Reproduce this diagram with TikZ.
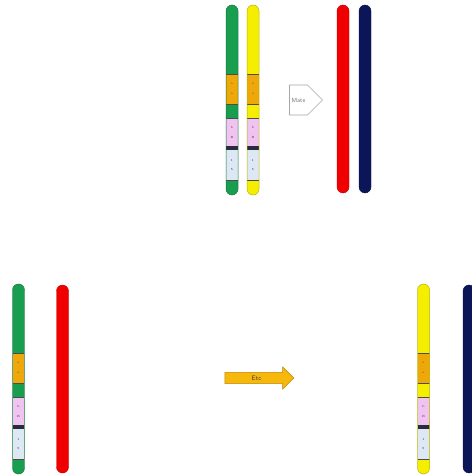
\documentclass[tikz,border=0pt]{standalone}
\usetikzlibrary{shapes.symbols,shapes.arrows}

\definecolor{chgreen}{RGB}{24,158,78}
\definecolor{chyellow}{RGB}{246,238,0}
\definecolor{segorange}{RGB}{238,168,10}
\definecolor{segpink}{RGB}{240,196,240}
\definecolor{segblue}{RGB}{222,232,244}
\definecolor{segdark}{RGB}{40,44,60}
\definecolor{chred}{RGB}{240,0,0}
\definecolor{chnavy}{RGB}{10,22,88}
\definecolor{arrowgold}{RGB}{246,184,10}

\tikzset{
  barshape/.style={rounded corners=6pt},
  bandline/.style={line width=0.5pt, black!70},
  genemark/.style={font=\fontsize{3}{3}\selectfont, inner sep=0pt},
  matebox/.style={signal, signal to=east, draw=black!35, fill=white, line width=0.6pt,
    minimum width=33pt, minimum height=30pt, inner sep=0pt,
    font=\sffamily\fontsize{6}{6}\selectfont, text=black!55},
  etcarrow/.style={single arrow, draw=segorange!80!black, fill=arrowgold, line width=0.5pt,
    minimum height=69pt, minimum width=22pt, single arrow head extend=5.5pt,
    inner xsep=0pt, inner ysep=3pt, font=\sffamily\fontsize{6.5}{6.5}\selectfont, text=black!75},
}

% A banded chromosome: centre x, top y, base colour
\newcommand\drawchrom[3]{%
  \begin{scope}
    \clip[barshape] (#1-6,#2) rectangle (#1+6,#2+190);
    \fill[#3] (#1-6,#2) rectangle (#1+6,#2+190);
    \fill[segorange] (#1-6,#2+69) rectangle (#1+6,#2+99);
    \fill[segpink] (#1-6,#2+113) rectangle (#1+6,#2+141);
    \fill[segdark] (#1-6,#2+141) rectangle (#1+6,#2+145);
    \fill[segblue] (#1-6,#2+145) rectangle (#1+6,#2+175);
    \foreach \yy in {69,99,113,175}
      \draw[bandline] (#1-6,#2+\yy) -- (#1+6,#2+\yy);
    \node[genemark, text=black!70] at (#1,#2+79) {a};
    \node[genemark, text=black!70] at (#1,#2+89) {a};
    \node[genemark, text=violet!80!black] at (#1,#2+122) {b};
    \node[genemark, text=violet!80!black] at (#1,#2+132) {B};
    \node[genemark, text=blue!40!black] at (#1,#2+155) {1};
    \node[genemark, text=blue!40!black] at (#1,#2+165) {5};
  \end{scope}
  \draw[barshape, #3!75!black, line width=0.5pt] (#1-6,#2) rectangle (#1+6,#2+190);
}

% A plain chromosome: centre x, top y, bottom y, colour
\newcommand\drawbar[4]{%
  \fill[barshape, #4, draw=#4!80!black, line width=0.4pt] (#1-6,#2) rectangle (#1+6,#3);
}

\begin{document}
\begin{tikzpicture}[x=1pt,y=-1pt]
  \useasboundingbox (0,0) rectangle (471,476);

  % parents
  \drawchrom{232}{5}{chgreen}
  \drawchrom{253}{5}{chyellow}
  \node[matebox] (mate) at (298.5,100) {Mate};
  \drawbar{343}{5}{193}{chred}
  \drawbar{365}{5}{193}{chnavy}

  % offspring
  \drawchrom{18.5}{284}{chgreen}
  \drawbar{62.5}{285}{473}{chred}
  \node[etcarrow] (etc) at (256.5,378) {Etc};
  \drawchrom{423.5}{284}{chyellow}
  \drawbar{469}{285}{473}{chnavy}
\end{tikzpicture}
\end{document}
